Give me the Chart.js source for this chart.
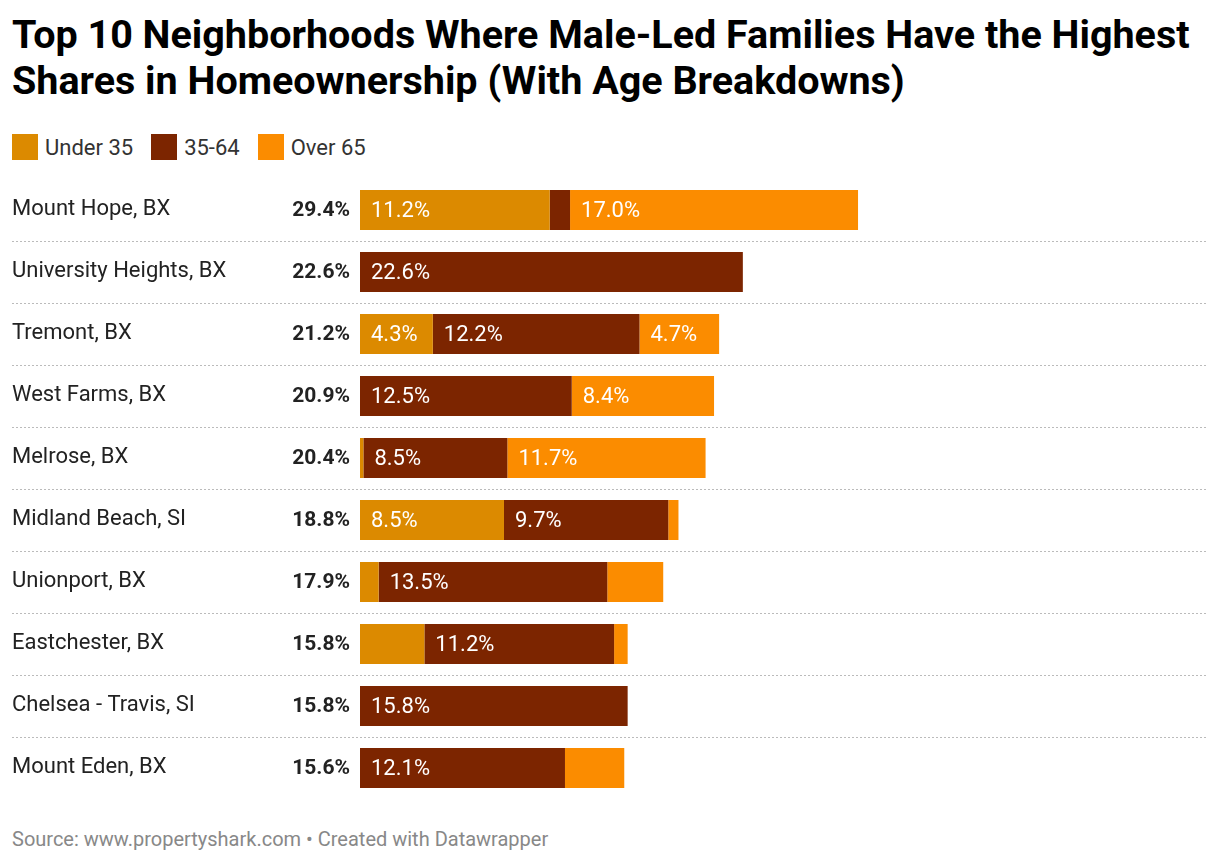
<!DOCTYPE html>
<html><head><meta charset="utf-8">
<script src="https://cdn.jsdelivr.net/npm/chart.js@4/dist/chart.umd.min.js"></script>
<style>
body{margin:0;background:#fff;font-family:Roboto,sans-serif;width:1220px;height:864px;position:relative;overflow:hidden}
h1{position:absolute;left:12px;top:12px;margin:0;font-size:39.5px;line-height:46px;font-weight:700;color:#000;width:1200px}
#legend{position:absolute;left:12px;top:134px;font-size:22px;color:#333;display:flex;gap:18px}
#legend span{display:inline-flex;align-items:center}
#legend i{width:26px;height:26px;margin-right:7px;display:inline-block}
#wrap{position:absolute;left:0;top:179px;width:1220px;height:620px}
#src{position:absolute;left:12px;top:827px;font-size:20px;color:#888}
</style></head><body>
<h1>Top 10 Neighborhoods Where Male-Led Families Have the Highest Shares in Homeownership (With Age Breakdowns)</h1>
<div id="legend"></div>
<div id="wrap"><canvas id="c"></canvas></div>
<div id="src">Source: www.propertyshark.com • Created with Datawrapper</div>
<script>
// Data
const neighborhoods = ['Mount Hope, BX','University Heights, BX','Tremont, BX','West Farms, BX','Melrose, BX','Midland Beach, SI','Unionport, BX','Eastchester, BX','Chelsea - Travis, SI','Mount Eden, BX'];
const totals = [29.4,22.6,21.2,20.9,20.4,18.8,17.9,15.8,15.8,15.6];
const under35 = [11.2,0,4.3,0,0.2,8.5,1.1,3.8,0,0];
const mid3564 = [1.2,22.6,12.2,12.5,8.5,9.7,13.5,11.2,15.8,12.1];
const over65 = [17.0,0,4.7,8.4,11.7,0.6,3.3,0.8,0,3.5];
const seriesNames = ['Under 35','35-64','Over 65'];
const colors = ['#dc8a00','#7c2500','#fb8c00'];

document.getElementById('legend').innerHTML = seriesNames.map((n,i)=>`<span><i style="background:${colors[i]}"></i>${n}</span>`).join('');

const labelsPlugin = {
  id:'labels',
  afterDatasetsDraw(chart){
    const ctx = chart.ctx, y = chart.scales.y;
    ctx.save();
    // separators
    ctx.strokeStyle='#bbb'; ctx.setLineDash([2,2]); ctx.lineWidth=1;
    for(let i=0;i<neighborhoods.length-1;i++){
      const yy = Math.round((y.getPixelForValue(i)+y.getPixelForValue(i+1))/2)+0.5;
      ctx.beginPath(); ctx.moveTo(12,yy); ctx.lineTo(1208,yy); ctx.stroke();
    }
    ctx.setLineDash([]);
    ctx.textBaseline='middle';
    neighborhoods.forEach((n,i)=>{
      const yy = y.getPixelForValue(i);
      ctx.fillStyle='#222'; ctx.font='22px Roboto'; ctx.textAlign='left';
      ctx.fillText(n,12,yy-1);
      ctx.font='bold 21px Roboto'; ctx.textAlign='right';
      ctx.fillText(totals[i].toFixed(1)+'%',350,yy+1);
    });
    ctx.font='22px Roboto'; ctx.textAlign='left'; ctx.fillStyle='#fff';
    chart.data.datasets.forEach((ds,di)=>{
      chart.getDatasetMeta(di).data.forEach((bar,i)=>{
        const v = ds.data[i];
        if(v>=4) ctx.fillText(v.toFixed(1)+'%',bar.base+11,bar.y+1);
      });
    });
    ctx.restore();
  }
};

new Chart(document.getElementById('c'),{
  type:'bar',
  data:{labels:neighborhoods,datasets:[under35,mid3564,over65].map((d,i)=>({label:seriesNames[i],data:d,backgroundColor:colors[i],barPercentage:0.645,categoryPercentage:1}))},
  options:{
    indexAxis:'y',responsive:true,maintainAspectRatio:false,animation:false,
    layout:{padding:{left:360,right:13,top:0,bottom:0}},
    plugins:{legend:{display:false},tooltip:{enabled:false}},
    scales:{
      x:{stacked:true,min:0,max:50,display:false},
      y:{stacked:true,display:false}
    }
  },
  plugins:[labelsPlugin]
});
</script>
</body></html>
